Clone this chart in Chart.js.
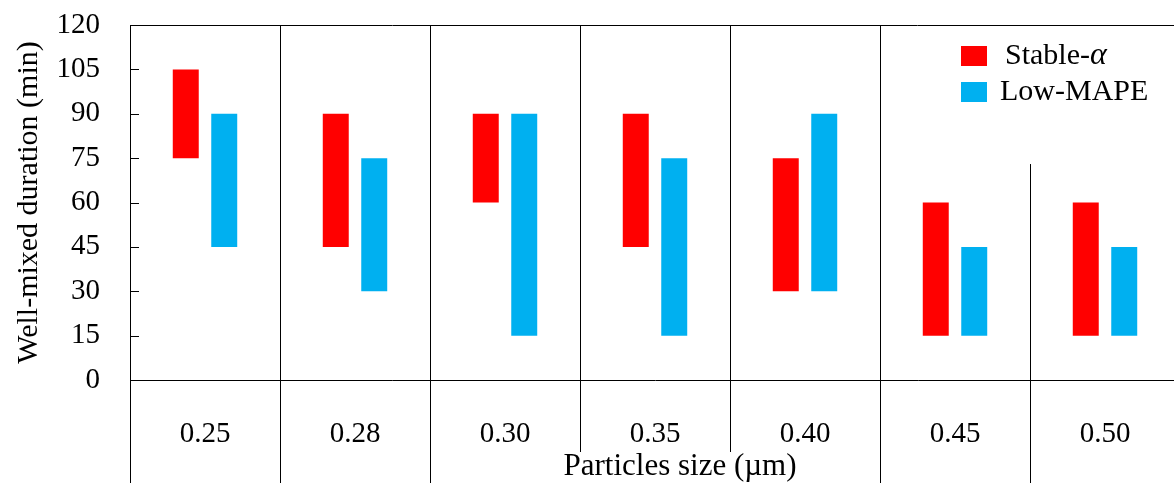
<!DOCTYPE html>
<html>
<head>
<meta charset="utf-8">
<script src="https://cdn.jsdelivr.net/npm/chart.js@4"></script>
<style>
  html, body { margin: 0; padding: 0; background: #fff; overflow: hidden; }
  canvas { display: block; }
</style>
</head>
<body>
<canvas id="chart" width="1180" height="493"></canvas>
<script>
// ======================================
// Data
// ======================================

const sizes = ["0.25", "0.28", "0.30", "0.35", "0.40", "0.45", "0.50"];

const stableFrom = [75, 45, 60, 45, 30, 15, 15];
const stableTo = [105, 90, 90, 90, 75, 60, 60];

const mapeFrom = [45, 30, 15, 15, 30, 15, 15];
const mapeTo = [90, 75, 90, 75, 90, 45, 45];

const yTicks = [0, 15, 30, 45, 60, 75, 90, 105, 120];

const SERIF = "'Times New Roman', 'Liberation Serif', serif";
const RED = "#FF0000";
const BLUE = "#00B0F0";

const ranges = (from, to) => from.map((v, i) => [v, to[i]]);

// ======================================
// Frame lines, inward ticks, x title, legend
// ======================================

const framePlugin = {
  id: "frame",
  afterDraw(chart) {
    const ctx = chart.ctx;
    const area = chart.chartArea;
    const x = chart.scales.x;
    const y = chart.scales.y;
    const px = (v) => Math.round(v) + 0.5;

    ctx.save();
    ctx.strokeStyle = "#000";
    ctx.lineWidth = 1;

    const line = (x1, y1, x2, y2) => {
      ctx.beginPath();
      ctx.moveTo(x1, y1);
      ctx.lineTo(x2, y2);
      ctx.stroke();
    };

    // top border
    line(area.left, px(area.top), chart.width, px(area.top));

    // inward ticks on the y axis
    yTicks.forEach((t) => {
      const ty = px(y.getPixelForValue(t));
      line(area.left, ty, area.left + 9, ty);
    });

    // category dividers
    const longDrop = 103;
    const shortDrop = 72;
    const drops = [longDrop, longDrop, longDrop, shortDrop, shortDrop, longDrop, longDrop];

    for (let i = 0; i < sizes.length; i++) {
      const bx = i === 0
        ? px(area.left)
        : px((x.getPixelForValue(i - 1) + x.getPixelForValue(i)) / 2);

      if (i > 0) {
        const top = i === sizes.length - 1 ? y.getPixelForValue(73) : area.top;
        line(bx, top, bx, area.bottom);
      }
      line(bx, area.bottom, bx, area.bottom + drops[i]);
    }

    // x axis title
    ctx.fillStyle = "#000";
    ctx.font = "31px " + SERIF;
    ctx.textAlign = "center";
    ctx.textBaseline = "middle";
    ctx.fillText("Particles size (\u00b5m)", area.left + 550, area.bottom + 87);

    // legend
    const boxX = area.left + 831;
    const rows = [area.top + 31, area.top + 67];
    ctx.textAlign = "left";
    chart.data.datasets.forEach((ds, i) => {
      const cy = rows[i];
      ctx.fillStyle = ds.backgroundColor;
      ctx.fillRect(boxX, cy - 10, 26, 20);
      ctx.fillStyle = "#000";
      ctx.font = "30px " + SERIF;
      const tx = boxX + 39;
      if (ds.label.endsWith("\u03b1")) {
        const head = ds.label.slice(0, -1);
        ctx.fillText(head, tx + 5, cy);
        const w = ctx.measureText(head).width;
        ctx.font = "italic 32px " + SERIF;
        ctx.fillText("\u03b1", tx + 5 + w, cy);
      } else {
        ctx.fillText(ds.label, tx, cy);
      }
    });

    ctx.restore();
  },
};

// ======================================
// Chart
// ======================================

new Chart(document.getElementById("chart"), {
  type: "bar",
  data: {
    labels: sizes,
    datasets: [
      {
        label: "Stable-\u03b1",
        data: ranges(stableFrom, stableTo),
        backgroundColor: RED,
        borderWidth: 0,
        categoryPercentage: 0.513,
        barPercentage: 0.675,
      },
      {
        label: "Low-MAPE",
        data: ranges(mapeFrom, mapeTo),
        backgroundColor: BLUE,
        borderWidth: 0,
        categoryPercentage: 0.513,
        barPercentage: 0.675,
      },
    ],
  },
  options: {
    responsive: false,
    animation: false,
    devicePixelRatio: 1,
    layout: { padding: { top: 25, left: 0, right: 0, bottom: 0 } },
    plugins: {
      legend: { display: false },
      tooltip: { enabled: false },
    },
    scales: {
      x: {
        grid: { display: false, drawTicks: false },
        border: { display: true, color: "#000", width: 1 },
        ticks: {
          color: "#000",
          font: { family: SERIF, size: 29 },
          padding: 37,
        },
        afterFit(scale) {
          scale.height = 113;
          scale.paddingLeft = 0;
          scale.paddingRight = 0;
        },
      },
      y: {
        min: 0,
        max: 120,
        grid: { display: false, drawTicks: false },
        border: { display: true, color: "#000", width: 1 },
        ticks: {
          stepSize: 15,
          color: "#000",
          font: { family: SERIF, size: 29 },
          padding: 30,
        },
        title: {
          display: true,
          text: "Well-mixed duration (min)",
          color: "#000",
          font: { family: SERIF, size: 30, lineHeight: 1 },
          padding: { top: 14, bottom: 0 },
        },
        afterFit(scale) {
          scale.width = 130;
          scale.paddingTop = 0;
          scale.paddingBottom = 0;
        },
      },
    },
  },
  plugins: [framePlugin],
});
</script>
</body>
</html>
